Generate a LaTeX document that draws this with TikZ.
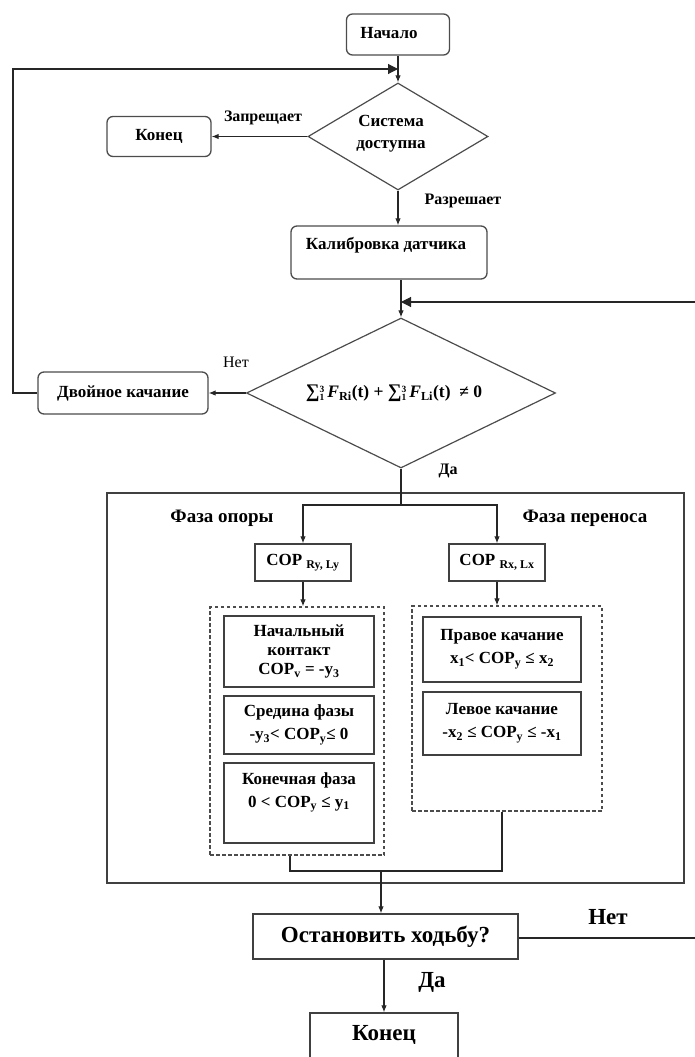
\documentclass[tikz,border=0pt]{standalone}
\usepackage{fontspec}
\setmainfont{Liberation Serif}
\usetikzlibrary{shapes.geometric,arrows.meta}
\newcommand\SupSub[2]{\raisebox{0.05em}{\fontsize{9.5}{9.5}\selectfont\renewcommand\arraystretch{0.72}\begin{tabular}{@{}l@{}}#1\\#2\end{tabular}}}
\newcommand\BigSum{\scalebox{1.1}{∑}}
\begin{document}
\begin{tikzpicture}[x=1pt,y=-1pt,
  every node/.style={font=\fontsize{17}{21}\selectfont\bfseries, text=black},
  rbox/.style={draw=black!70, line width=1.3pt, rounded corners=6pt, inner sep=0pt},
  sbox/.style={draw=black!75, line width=1.3pt, inner sep=0pt, align=center},
  dbox/.style={draw=black!70, line width=1.2pt, dash pattern=on 3.5pt off 2.5pt, inner sep=0pt},
  dia/.style={draw=black!70, line width=1.2pt, shape=diamond, aspect=2, inner sep=0pt, align=center},
  conn/.style={line width=1.1pt, draw=black!85},
  arr/.style={conn, -{Latex[length=7pt,width=5.5pt]}},
  bigarr/.style={conn, -{Triangle[length=10pt,width=10pt]}},
  lbl/.style={inner sep=0pt, align=center},
  big/.style={font=\fontsize{23}{27}\selectfont\bfseries},
]
\useasboundingbox (0,0) rectangle (695,1057);
\clip (0,0) rectangle (695,1057);

% top part
\node[rbox, minimum width=103pt, minimum height=41pt] (start) at (398,34.5) {};
\node[lbl] (startt) at (389,33) {Начало};
\node[dia, minimum width=180pt, minimum height=107pt] (sys) at (398,136.5) {};
\node[lbl, font=\fontsize{17}{22}\selectfont\bfseries] (syst) at (391,134) {Система\\доступна};
\node[rbox, minimum width=104pt, minimum height=40pt] (end1) at (159,136.5) {Конец};
\node[rbox, minimum width=196pt, minimum height=53pt] (cal) at (389,252.5) {};
\node[lbl] (calt) at (386,245) {Калибровка датчика};
\node[dia, minimum width=309pt, minimum height=150pt] (cond) at (401,393) {};
\node[lbl, font=\fontsize{17.5}{20}\selectfont\bfseries] (condt) at (394,394)
  {\BigSum\SupSub{3}{1}\,\textit{F}\textsubscript{Ri}(t) + \BigSum\SupSub{3}{1}\,\textit{F}\textsubscript{Li}(t) \ ≠ 0};
\node[rbox, minimum width=170pt, minimum height=42pt] (dbl) at (123,393) {Двойное качание};

\coordinate (j1) at (398,69);
\coordinate (j2) at (401,302);
\coordinate (rin) at (695,302);

\draw[arr] (start.south) -- (sys.north);
\draw[bigarr] (dbl.west) -| (13,69) -- (j1);
\draw[arr] (sys.west) -- (end1.east);
\draw[arr] (sys.south) -- (sys.south |- cal.north);
\draw[arr] (cond.north |- cal.south) -- (cond.north);
\draw[bigarr] (rin) -- (j2);
\draw[arr] (cond.west) -- (dbl.east);

\node[lbl, font=\fontsize{16}{19}\selectfont\bfseries] (l1) at (263,118) {Запрещает};
\node[lbl, font=\fontsize{16}{19}\selectfont\bfseries] (l2) at (463,201) {Разрешает};
\node[lbl, font=\fontsize{16}{19}\selectfont] (l3) at (236,362) {Нет};
\node[lbl, font=\fontsize{16}{19}\selectfont\bfseries] (l4) at (448,471) {Да};

% big box
\node[sbox, minimum width=577pt, minimum height=390pt] (bigbox) at (395.5,688) {};
\coordinate (split) at (401,505);
\draw[conn] (cond.south) -- (split);
\node[lbl, font=\fontsize{19}{22}\selectfont\bfseries] (ph1) at (222,518) {Фаза опоры};
\node[lbl, font=\fontsize{19}{22}\selectfont\bfseries] (ph2) at (585,518) {Фаза переноса};

\node[sbox, minimum width=96pt, minimum height=37pt] (copL) at (303,562.5) {COP \textsubscript{Ry, Ly}};
\node[sbox, minimum width=96pt, minimum height=37pt] (copR) at (497,562.5) {COP \textsubscript{Rx, Lx}};
\draw[arr] (split) -| (copL.north);
\draw[arr] (split) -| (copR.north);

\node[dbox, minimum width=174pt, minimum height=248pt] (dashL) at (297,731) {};
\node[dbox, minimum width=190pt, minimum height=205pt] (dashR) at (507,708.5) {};
\draw[arr] (copL.south) -- (copL.south |- dashL.north);
\draw[arr] (copR.south) -- (copR.south |- dashR.north);

\node[sbox, minimum width=150pt, minimum height=71pt] (s1) at (299,651.5)
  {Начальный\\[-2pt]контакт\\[-2pt]COP\textsubscript{v} = -y\textsubscript{3}};
\node[sbox, minimum width=150pt, minimum height=58pt] (s2) at (299,725)
  {Средина фазы\\[2pt]-y\textsubscript{3}< COP\textsubscript{y}≤ 0};
\node[sbox, minimum width=150pt, minimum height=80pt] (s3) at (299,803) {};
\node[lbl] (s3t) at (299,792.5) {Конечная фаза\\[2pt]0 < COP\textsubscript{y} ≤ y\textsubscript{1}};

\node[sbox, minimum width=158pt, minimum height=65pt] (w1) at (502,649.5)
  {Правое качание\\[2pt]x\textsubscript{1}< COP\textsubscript{y} ≤ x\textsubscript{2}};
\node[sbox, minimum width=158pt, minimum height=63pt] (w2) at (502,723.5)
  {Левое качание\\[2pt]-x\textsubscript{2} ≤ COP\textsubscript{y} ≤ -x\textsubscript{1}};

\coordinate (m) at (381,871);
\draw[conn] ([xshift=-7pt]dashL.south) |- (m);
\draw[conn] ([xshift=-5pt]dashR.south) |- (m);

% bottom
\node[sbox, big, minimum width=265pt, minimum height=45pt] (stop) at (385.5,936.5) {Остановить ходьбу?};
\draw[arr] (m) -- (m |- stop.north);
\coordinate (rout) at (695,938);
\draw[conn] (stop.east |- rout) -- (rout);
\node[sbox, minimum width=148pt, minimum height=70pt] (end2) at (384,1048) {};
\node[lbl, big] (end2t) at (384,1035) {Конец};
\draw[arr] (stop.south -| end2.north) -- (end2.north);
\node[lbl, big] (l5) at (608,917) {Нет};
\node[lbl, big] (l6) at (432,982) {Да};
\end{tikzpicture}
\end{document}
